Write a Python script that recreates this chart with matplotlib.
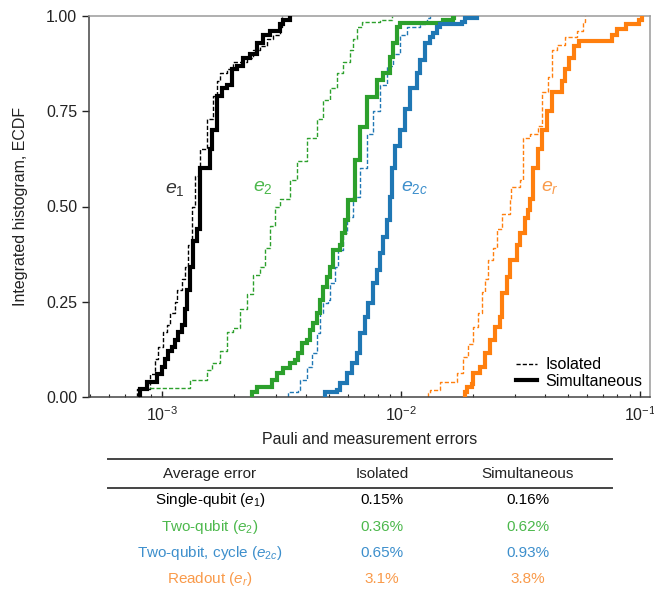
import numpy as np
import matplotlib
matplotlib.use("Agg")
import matplotlib.pyplot as plt
from matplotlib.lines import Line2D

plt.rcParams['font.family'] = ['Liberation Sans', 'DejaVu Sans']
plt.rcParams['mathtext.fontset'] = 'custom'
plt.rcParams['mathtext.rm'] = 'Liberation Sans'
plt.rcParams['mathtext.it'] = 'Liberation Sans:italic'

# ---------------------------
# ECDF breakpoints (errors in units of 1e-3, level after the step)
# ---------------------------
e1_iso_err = [0.79, 0.89, 0.94, 0.96, 1.01, 1.05, 1.08, 1.13, 1.16, 1.21, 1.25, 1.28, 1.33, 1.37,
              1.44, 1.54, 1.63, 1.70, 1.75, 1.87, 1.98, 2.26, 2.40, 2.57, 2.74, 2.91, 3.11, 3.17]
e1_iso_cdf = [0.02, 0.06, 0.10, 0.13, 0.17, 0.19, 0.22, 0.25, 0.28, 0.31, 0.34, 0.40, 0.50, 0.58,
              0.65, 0.73, 0.79, 0.83, 0.85, 0.86, 0.88, 0.89, 0.91, 0.92, 0.94, 0.95, 0.97, 1.00]

e1_sim_err = [0.81, 0.87, 0.95, 1.00, 1.03, 1.06, 1.10, 1.13, 1.17, 1.21, 1.25, 1.27, 1.31, 1.35,
              1.40, 1.44, 1.59, 1.62, 1.70, 1.78, 1.87, 1.96, 2.06, 2.18, 2.33, 2.49, 2.64, 2.82,
              3.11, 3.20, 3.42]
e1_sim_cdf = [0.02, 0.04, 0.06, 0.08, 0.10, 0.12, 0.13, 0.15, 0.17, 0.19, 0.23, 0.28, 0.34, 0.41,
              0.44, 0.60, 0.65, 0.70, 0.79, 0.81, 0.82, 0.86, 0.87, 0.89, 0.90, 0.93, 0.95, 0.96,
              0.98, 0.99, 1.00]

e2_iso_err = [0.81, 1.31, 1.54, 1.62, 1.75, 1.87, 1.98, 2.12, 2.26, 2.40, 2.57, 2.69, 2.82, 2.96,
              3.11, 3.42, 3.66, 4.03, 4.44, 4.70, 5.03, 5.38, 5.70, 6.10, 6.27, 6.52, 6.84, 8.14, 9.13]
e2_iso_cdf = [0.024, 0.045, 0.07, 0.09, 0.12, 0.17, 0.18, 0.23, 0.27, 0.32, 0.34, 0.39, 0.45, 0.50,
              0.52, 0.57, 0.62, 0.68, 0.73, 0.78, 0.81, 0.85, 0.88, 0.91, 0.94, 0.97, 0.984, 0.99, 1.00]

e2_sim_err = [2.38, 2.49, 2.88, 3.02, 3.20, 3.42, 3.59, 3.70, 3.84, 4.03, 4.15, 4.27, 4.44, 4.57,
              4.70, 4.89, 5.03, 5.18, 5.54, 5.64, 5.81, 5.98, 6.40, 6.71, 7.18, 7.90, 8.37, 8.95,
              9.22, 9.58, 9.86, 14.9, 16.4, 16.7]
e2_sim_cdf = [0.013, 0.026, 0.045, 0.063, 0.076, 0.089, 0.097, 0.115, 0.142, 0.150, 0.176, 0.194,
              0.22, 0.255, 0.289, 0.315, 0.341, 0.386, 0.399, 0.43, 0.465, 0.517, 0.622, 0.709,
              0.787, 0.832, 0.85, 0.892, 0.929, 0.971, 0.982, 0.99, 0.995, 1.00]

e2c_iso_err = [3.36, 3.70, 3.77, 4.03, 4.23, 4.44, 4.57, 4.70, 4.93, 5.03, 5.28, 5.43, 5.70, 5.92,
               6.27, 6.71, 7.18, 7.60, 8.14, 8.70, 9.22, 9.86, 10.54, 11.95, 12.8, 13.15]
e2c_iso_cdf = [0.013, 0.018, 0.045, 0.08, 0.115, 0.168, 0.22, 0.247, 0.255, 0.30, 0.341, 0.386,
               0.43, 0.472, 0.525, 0.60, 0.69, 0.75, 0.82, 0.87, 0.90, 0.95, 0.97, 0.98, 0.995, 1.00]

e2c_sim_err = [4.79, 5.38, 5.54, 5.92, 6.21, 6.52, 6.71, 7.04, 7.25, 7.60, 7.90, 8.14, 8.37, 8.70,
               8.95, 9.13, 9.40, 9.86, 10.34, 10.85, 11.61, 11.95, 12.53, 13.15, 13.54, 14.07,
               14.49, 17.9, 18.4, 20.7]
e2c_sim_cdf = [0.013, 0.018, 0.037, 0.063, 0.089, 0.115, 0.168, 0.21, 0.247, 0.299, 0.333, 0.378,
               0.42, 0.465, 0.525, 0.60, 0.66, 0.70, 0.755, 0.81, 0.85, 0.885, 0.93, 0.945, 0.955,
               0.97, 0.98, 0.985, 0.995, 1.00]

er_iso_err = [12.9, 13.15, 14.5, 17.05, 18.1, 19.0, 19.9, 20.9, 21.7, 22.3, 23.0, 24.1, 25.1, 26.5,
              28.4, 28.9, 31.3, 32.2, 34.4, 37.2, 38.6, 40.9, 42.5, 45.0, 48.2, 54.1, 57.3, 58.4]
er_iso_cdf = [0.010, 0.018, 0.04, 0.063, 0.105, 0.14, 0.184, 0.22, 0.275, 0.31, 0.36, 0.39, 0.44, 0.48,
              0.52, 0.55, 0.57, 0.68, 0.69, 0.71, 0.80, 0.84, 0.91, 0.925, 0.945, 0.96, 0.985, 1.00]

er_sim_err = [18.4, 18.8, 19.7, 19.9, 21.3, 22.3, 23.4, 24.6, 25.8, 26.5, 27.6, 28.4, 30.4, 31.3,
              32.8, 33.8, 34.4, 35.4, 37.2, 38.6, 40.5, 42.5, 46.8, 48.2, 50.5, 53.0, 55.6, 76.4,
              79.4, 87.4, 99.0, 101.0]
er_sim_cdf = [0.013, 0.026, 0.035, 0.063, 0.079, 0.115, 0.15, 0.184, 0.21, 0.273, 0.315, 0.36, 0.40,
              0.43, 0.47, 0.49, 0.52, 0.60, 0.65, 0.70, 0.75, 0.80, 0.83, 0.86, 0.89, 0.92, 0.935,
              0.95, 0.965, 0.98, 0.99, 1.00]

# table contents
table_header = ["Average error", "Isolated", "Simultaneous"]
table_rows = [r"Single-qubit ($\mathit{e}_1$)", r"Two-qubit ($\mathit{e}_2$)",
              r"Two-qubit, cycle ($\mathit{e}_{2c}$)", r"Readout ($\mathit{e}_r$)"]
table_isolated = ["0.15%", "0.36%", "0.65%", "3.1%"]
table_simultaneous = ["0.16%", "0.62%", "0.93%", "3.8%"]

# colours
c_black = "black"
c_green = "#2ca02c"
c_blue = "#1f77b4"
c_orange = "#ff7f0e"
label_colors = ["#333333", "#4cb84c", "#3d8fcc", "#f99a4a"]
row_colors = ["black", "#4cb84c", "#3d8fcc", "#f99a4a"]

curves = [
    (e1_iso_err, e1_iso_cdf, e1_sim_err, e1_sim_cdf, c_black),
    (e2_iso_err, e2_iso_cdf, e2_sim_err, e2_sim_cdf, c_green),
    (e2c_iso_err, e2c_iso_cdf, e2c_sim_err, e2c_sim_cdf, c_blue),
    (er_iso_err, er_iso_cdf, er_sim_err, er_sim_cdf, c_orange),
]

# ---------------------------
# figure
# ---------------------------
fig = plt.figure(figsize=(6.54, 5.97), dpi=100)
ax = fig.add_axes([89 / 654, 1 - 397 / 597, (650 - 89) / 654, (397 - 16) / 597])


def draw_ecdf(err, cdf, color, **kw):
    x = np.array([err[0]] + list(err)) * 1e-3
    y = np.array([0.0] + list(cdf))
    ax.step(x, y, where='post', color=color, solid_joinstyle='miter', **kw)


for iso_x, iso_y, sim_x, sim_y, col in curves:
    draw_ecdf(iso_x, iso_y, col, lw=1.0, linestyle=(0, (3, 1.5)), zorder=2)
    draw_ecdf(sim_x, sim_y, col, lw=3.0, zorder=3)

ax.set_xscale('log')
ax.set_xlim(4.96e-4, 0.1096)
ax.set_ylim(0, 1)
ax.set_yticks([0, 0.25, 0.5, 0.75, 1.0])
ax.set_yticklabels(["0.00", "0.25", "0.50", "0.75", "1.00"])
ax.tick_params(axis='y', direction='out', length=5, width=1, labelsize=11.5, colors='#222222')
ax.tick_params(axis='x', which='major', direction='in', length=4, width=1, labelsize=11.5,
               pad=6, colors='#222222')
ax.tick_params(axis='x', which='minor', direction='in', length=2.5, width=0.8, colors='#222222')
ax.set_xlabel("Pauli and measurement errors", fontsize=11.5, labelpad=6, color='#222222')
ax.set_ylabel("Integrated histogram, ECDF", fontsize=11.5, labelpad=13, color='#222222')

for side in ['left', 'bottom']:
    ax.spines[side].set_color('#444444')
    ax.spines[side].set_linewidth(1.1)
for side in ['top', 'right']:
    ax.spines[side].set_color('#9a9a9a')
    ax.spines[side].set_linewidth(1.1)

# curve labels
ax.text(1.133e-3, 0.545, r"$\mathit{e}_1$", color=label_colors[0], fontsize=14, ha='center', va='center')
ax.text(2.64e-3, 0.549, r"$\mathit{e}_2$", color=label_colors[1], fontsize=14, ha='center', va='center')
ax.text(11.4e-3, 0.549, r"$\mathit{e}_{2c}$", color=label_colors[2], fontsize=14, ha='center', va='center')
ax.text(41.7e-3, 0.551, r"$\mathit{e}_r$", color=label_colors[3], fontsize=14, ha='center', va='center')

# legend
handles = [Line2D([], [], color='black', lw=1.0, linestyle=(0, (3, 1.5))),
           Line2D([], [], color='black', lw=3.0)]
ax.legend(handles, ["Isolated", "Simultaneous"], loc='lower right', frameon=False,
          fontsize=11.5, handlelength=1.3, handletextpad=0.5, labelspacing=0.1,
          borderaxespad=0.1, bbox_to_anchor=(1.0, 0.0))

# ---------------------------
# table below the plot
# ---------------------------
W, H = 654.0, 597.0
col_x = [210, 382, 528]
header_y = 474
row_y = [500, 527, 553, 579]

for yy in [459, 488]:
    fig.add_artist(Line2D([108 / W, 612 / W], [1 - yy / H, 1 - yy / H], color='#444444', lw=1.4))

for cx, txt in zip(col_x, table_header):
    fig.text(cx / W, 1 - header_y / H, txt, ha='center', va='center', fontsize=11, color='#222222')

for i, (name, iso, sim) in enumerate(zip(table_rows, table_isolated, table_simultaneous)):
    col = row_colors[i]
    yy = 1 - row_y[i] / H
    fig.text(col_x[0] / W, yy, name, ha='center', va='center', fontsize=11, color=col)
    fig.text(col_x[1] / W, yy, iso, ha='center', va='center', fontsize=11, color=col)
    fig.text(col_x[2] / W, yy, sim, ha='center', va='center', fontsize=11, color=col)

fig.savefig("out.png", dpi=100)
